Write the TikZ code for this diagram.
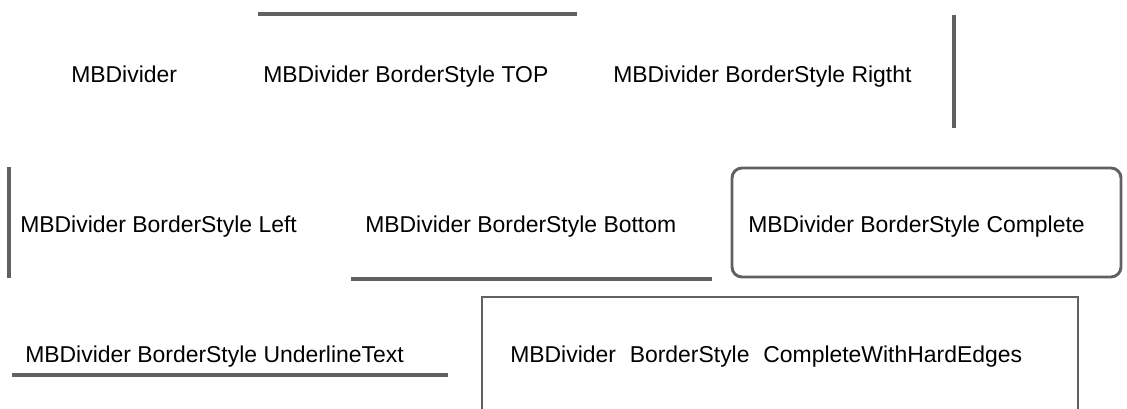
\documentclass[tikz,border=0pt]{standalone}
\usepackage{fontspec}
\setmainfont{Liberation Sans}
\begin{document}
\begin{tikzpicture}[x=0.75pt,y=-0.75pt,
  label/.style={anchor=base west,inner sep=0pt,font=\fontsize{17.2pt}{20pt}\selectfont,text=black},
  divider/.style={draw=black!62,line width=2.5pt},
  frame/.style={draw=black!62,line width=2.2pt}]
\useasboundingbox (0,0) rectangle (1127,409);
\clip (0,0) rectangle (1127,409);

% row 1
\node[label] (plain) at (71,83) {MBDivider};
\node[label] (top) at (263,83) {MBDivider BorderStyle TOP};
\draw[divider] (258,14) -- (577,14);
\node[label] (right) at (613,83) {MBDivider BorderStyle Rigtht};
\draw[divider] (954,15) -- (954,128);

% row 2
\draw[divider] (9,167) -- (9,278);
\node[label] (left) at (20,233) {MBDivider BorderStyle Left};
\node[label] (bottom) at (365,233) {MBDivider BorderStyle Bottom};
\draw[divider] (351,279) -- (712,279);
\draw[frame,rounded corners=7.5pt] (732,168) rectangle (1121,277);
\node[label] (complete) at (748,233) {MBDivider BorderStyle Complete};

% row 3
\node[label] (underline) at (25,362) {MBDivider BorderStyle UnderlineText};
\draw[divider] (12,375) -- (448,375);
\draw[frame] (482,297) rectangle (1078,430);
\node[label] (hard) at (510,362) {MBDivider\hspace{0.6em}BorderStyle\hspace{0.6em}CompleteWithHardEdges};
\end{tikzpicture}
\end{document}
